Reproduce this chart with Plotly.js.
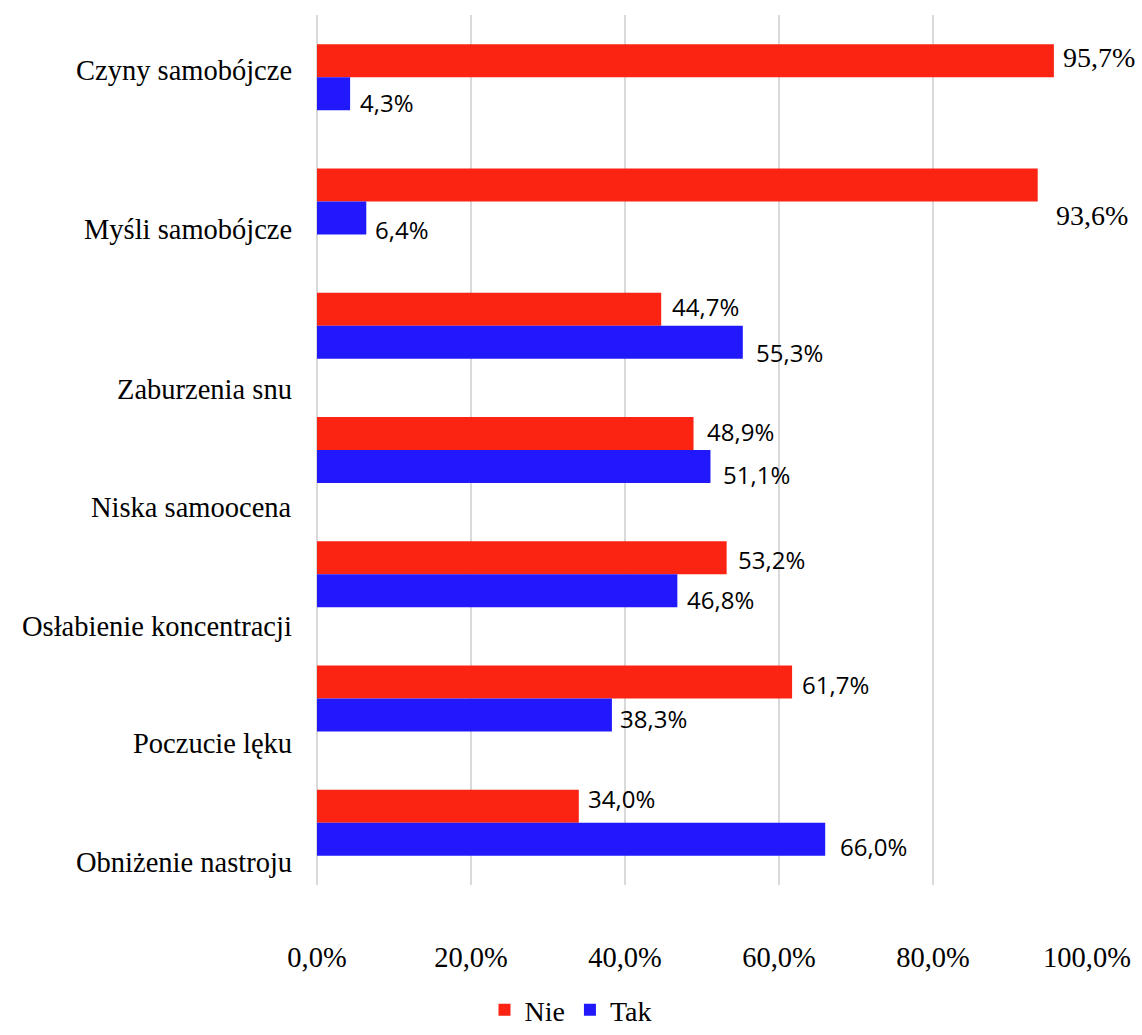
<!DOCTYPE html>
<html>
<head>
<meta charset="utf-8">
<script src="https://cdn.plot.ly/plotly-3.0.1.min.js"></script>
<style>html,body{margin:0;padding:0;background:#fff;}#chart{width:1142px;height:1035px;}</style>
</head>
<body>
<div id="chart"></div>
<script>
// ---- data ----
const categories = ['Czyny samobójcze','Myśli samobójcze','Zaburzenia snu','Niska samoocena','Osłabienie koncentracji','Poczucie lęku','Obniżenie nastroju'];
const seriesNames = ['Nie','Tak'];
const nieValues = [95.7, 93.6, 44.7, 48.9, 53.2, 61.7, 34.0];
const takValues = [4.3, 6.4, 55.3, 51.1, 46.8, 38.3, 66.0];
const tickValues = [0, 20, 40, 60, 80, 100];
const tickLabels = ['0,0%', '20,0%', '40,0%', '60,0%', '80,0%', '100,0%'];

// ---- styles ----
const RED = '#FB2312', BLUE = '#2119FB';
const SERIF = 'Liberation Serif';
const SANS = 'Open Sans';
const BAR_PX = 33;                     // half-group offset in px
// per-label position tweaks (px; down positive) mimicking the original layout
const catLabelDown = [-7, 28.5, 64, 57, 52, 45, 40];
const nieLabelDown = [-3.5, 31, -3, -2, 2, 2.5, -8];
const takLabelDown = [9, 11.5, 10.5, 7.5, 9, 3.5, 7];
const nieGap = [8, 17, 10, 12, 10, 9, 8];
const takGap = [9, 8, 12, 12, 9, 7, 14];
const nieSerif = [true, true, false, false, false, false, false];

const fmt = v => v.toFixed(1).replace('.', ',') + '%';

const traces = [
  {type:'bar', orientation:'h', name:seriesNames[0], y:categories, x:nieValues,
   marker:{color:RED}, hoverinfo:'none'},
  {type:'bar', orientation:'h', name:seriesNames[1], y:categories, x:takValues,
   marker:{color:BLUE}, hoverinfo:'none'}
];

const annotations = [];
categories.forEach((c, i) => {
  annotations.push({xref:'paper', yref:'y', x:0, y:c, text:c, showarrow:false,
    xanchor:'right', yanchor:'middle', xshift:-24, yshift:-catLabelDown[i],
    borderpad:0, font:{family:SERIF, size:28.5, color:'#000'}});
  annotations.push({xref:'x', yref:'y', x:nieValues[i], y:c, text:fmt(nieValues[i]), showarrow:false,
    xanchor:'left', yanchor:'middle', xshift:nieGap[i], yshift:BAR_PX/2 - nieLabelDown[i],
    borderpad:0,
    font: nieSerif[i] ? {family:SERIF, size:28, color:'#000'} : {family:SANS, size:24, color:'#000'}});
  annotations.push({xref:'x', yref:'y', x:takValues[i], y:c, text:fmt(takValues[i]), showarrow:false,
    xanchor:'left', yanchor:'middle', xshift:takGap[i], yshift:-BAR_PX/2 - takLabelDown[i],
    borderpad:0, font:{family:SANS, size:24, color:'#000'}});
});

const layout = {
  width:1142, height:1035,
  margin:{l:317, r:55, t:15, b:150},
  paper_bgcolor:'#fff', plot_bgcolor:'#fff',
  barmode:'group', bargap:0.469, bargroupgap:0,
  showlegend:true,
  legend:{orientation:'h', xref:'container', yref:'container', x:0.5, xanchor:'center',
          y:0, yanchor:'bottom', font:{family:SERIF, size:28, color:'#000'},
          itemwidth:30, tracegroupgap:0},
  xaxis:{range:[0,100], tickvals:tickValues, ticktext:tickLabels,
         showgrid:true, gridcolor:'#d9d9d9', gridwidth:2,
         zeroline:true, zerolinecolor:'#d9d9d9', zerolinewidth:2,
         showline:false, ticks:'', ticklabelstandoff:52,
         tickfont:{family:SERIF, size:28.5, color:'#000'}, fixedrange:true},
  yaxis:{type:'category', autorange:'reversed', showticklabels:false, showgrid:false,
         zeroline:false, showline:false, ticks:'', fixedrange:true},
  annotations:annotations
};

Plotly.newPlot('chart', traces, layout, {displayModeBar:false, staticPlot:true});
</script>
</body>
</html>
